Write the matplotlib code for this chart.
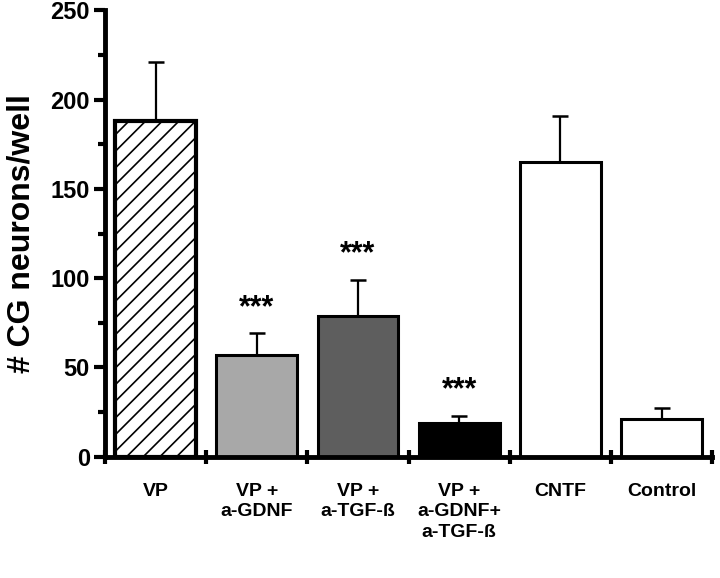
import numpy as np
import matplotlib
matplotlib.use('Agg')
import matplotlib.pyplot as plt

plt.rcParams['font.family'] = ['Liberation Sans', 'DejaVu Sans']
plt.rcParams['font.weight'] = 'bold'
plt.rcParams['hatch.linewidth'] = 1.2

labels = ['VP', 'VP +\na-GDNF', 'VP +\na-TGF-ß', 'VP +\na-GDNF+\na-TGF-ß', 'CNTF', 'Control']
means = [188, 57, 79, 19, 165, 21]
errors = [33, 12, 20, 4, 26, 6]
stars = ['', '***', '***', '***', '', '']

face_colors = ['white', '#a8a8a8', '#5e5e5e', 'black', 'white', 'white']
hatches = ['//', None, None, None, None, None]
edge_widths = [3.0, 2.2, 2.2, 2.2, 2.2, 2.2]

fig = plt.figure(figsize=(7.2, 5.78), dpi=100)
ax = fig.add_axes([0.146, 0.21, 0.843, 0.772])

x = np.arange(len(means))
for i in range(len(means)):
    ax.bar(x[i], means[i], width=0.8, color=face_colors[i], edgecolor='black',
           linewidth=edge_widths[i], hatch=hatches[i], zorder=2)
ax.errorbar(x, means, yerr=[np.zeros(len(errors)), errors], fmt='none',
            ecolor='black', elinewidth=1.6, capsize=6, capthick=1.8, zorder=1)

for i in range(len(means)):
    if stars[i]:
        ax.text(x[i], means[i] + errors[i] + 6, stars[i], ha='center', va='bottom',
                fontsize=22, fontweight='bold')

ax.set_xlim(-0.5, 5.5)
ax.set_ylim(0, 250)

ax.spines['top'].set_visible(False)
ax.spines['right'].set_visible(False)
ax.spines['left'].set_linewidth(3.5)
ax.spines['bottom'].set_linewidth(3.5)

ax.set_yticks(np.arange(0, 251, 50))
ax.set_yticks(np.arange(25, 250, 50), minor=True)
ax.tick_params(axis='y', which='major', length=8, width=3, labelsize=17, pad=3)
ax.tick_params(axis='y', which='minor', length=5, width=3)

ax.set_xticks(np.arange(-0.5, 5.6, 1.0))
ax.set_xticklabels([])
ax.set_xticks(x, minor=True)
ax.set_xticklabels(labels, minor=True, fontsize=14, fontweight='bold', linespacing=1.25)
ax.tick_params(axis='x', which='major', direction='inout', length=10, width=3)
ax.tick_params(axis='x', which='minor', length=0, pad=19)

ax.set_ylabel('# CG neurons/well', fontsize=23, fontweight='bold', labelpad=10)

fig.savefig('out.png', dpi=100)
